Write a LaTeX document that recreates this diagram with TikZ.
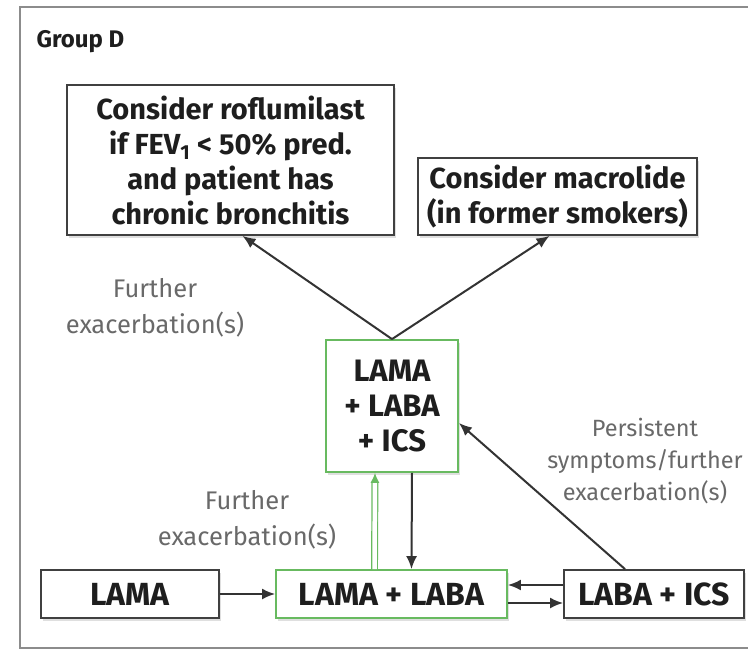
\documentclass[tikz,border=0pt]{standalone}
\usepackage{fontspec}
\setmainfont{Fira Sans}
\usetikzlibrary{arrows.meta,shadows,calc}

\definecolor{boxgreen}{RGB}{104,186,96}
\definecolor{textdark}{RGB}{30,30,30}
\definecolor{labelgray}{RGB}{105,105,105}

\tikzset{
  box/.style={draw=black!75,line width=1.8pt,fill=white,align=center,
    text=textdark,font=\bfseries,inner sep=0pt,
    drop shadow={opacity=0.25,shadow xshift=2pt,shadow yshift=-3pt}},
  greenbox/.style={box,draw=boxgreen},
  lbl/.style={align=center,text=labelgray},
  arr/.style={line width=2pt,draw=black!80,-{Latex[length=13pt,width=11pt]}}
}

\begin{document}
\begin{tikzpicture}[x=1pt,y=-1pt]
    \useasboundingbox (0,0) rectangle (748,651);
    \clip (0,0) rectangle (748,651);
    \fill[white] (0,0) rectangle (748,651);

    % frame
    \draw[line width=1.8pt,black!45] (20,7) rectangle (780,648);
    \node[anchor=west,font=\fontsize{24}{28}\selectfont\bfseries,text=textdark] (title) at (33,42) {Group D};

    % upper boxes
    \node[box,minimum width=327pt,minimum height=150pt,font=\fontsize{29}{35}\selectfont\bfseries] (rofl) at (230.5,160)
        {Consider roflumilast\\if FEV\textsubscript{1} < 50\% pred.\\and patient has\\chronic bronchitis};
    \node[box,minimum width=279pt,minimum height=77pt,font=\fontsize{29}{35}\selectfont\bfseries] (macro) at (557.5,196.5)
        {Consider macrolide\\(in former smokers)};

    % middle box
    \node[greenbox,minimum width=132pt,minimum height=132pt,font=\fontsize{31}{35}\selectfont\bfseries] (triple) at (392,406)
        {LAMA\\+ LABA\\+ ICS};

    % bottom row
    \node[box,minimum width=178pt,minimum height=48pt,font=\fontsize{32}{36}\selectfont\bfseries] (lama) at (130,594) {LAMA};
    \node[greenbox,minimum width=231pt,minimum height=48pt,font=\fontsize{32}{36}\selectfont\bfseries] (dual) at (391.5,594) {LAMA + LABA};
    \node[box,minimum width=180pt,minimum height=48pt,font=\fontsize{32}{36}\selectfont\bfseries] (labaics) at (654,594) {LABA + ICS};

    % labels
    \node[lbl,font=\fontsize{25.5}{36}\selectfont] (further1) at (155,308) {Further\\exacerbation(s)};
    \node[lbl,font=\fontsize{25.5}{36}\selectfont] (further2) at (247,520) {Further\\exacerbation(s)};
    \node[lbl,font=\fontsize{23.5}{32}\selectfont] (persist) at (645,461) {Persistent\\symptoms/further\\exacerbation(s)};

    % connectors
    \draw[arr] (triple.north) -- ($(rofl.south)+(12,0)$);
    \draw[arr] (triple.north) -- ($(macro.south)+(-8,0)$);
    \draw[line width=1.2pt,draw=boxgreen,double=white,double distance=4.5pt,-{Latex[length=10pt,width=9pt]}]
        ($(dual.north)+(-17,0)$) -- ($(triple.south)+(-17,0)$);
    \draw[arr] ($(triple.south)+(20,0)$) -- ($(dual.north)+(20,0)$);
    \draw[arr] (lama.east) -- (dual.west);
    \draw[arr] ($(labaics.west)+(0,-9)$) -- ($(dual.east)+(0,-9)$);
    \draw[arr] ($(dual.east)+(0,9)$) -- ($(labaics.west)+(0,9)$);
    \draw[arr] ($(labaics.north)+(-29,0)$) -- ($(triple.east)+(0,17)$);
\end{tikzpicture}
\end{document}
